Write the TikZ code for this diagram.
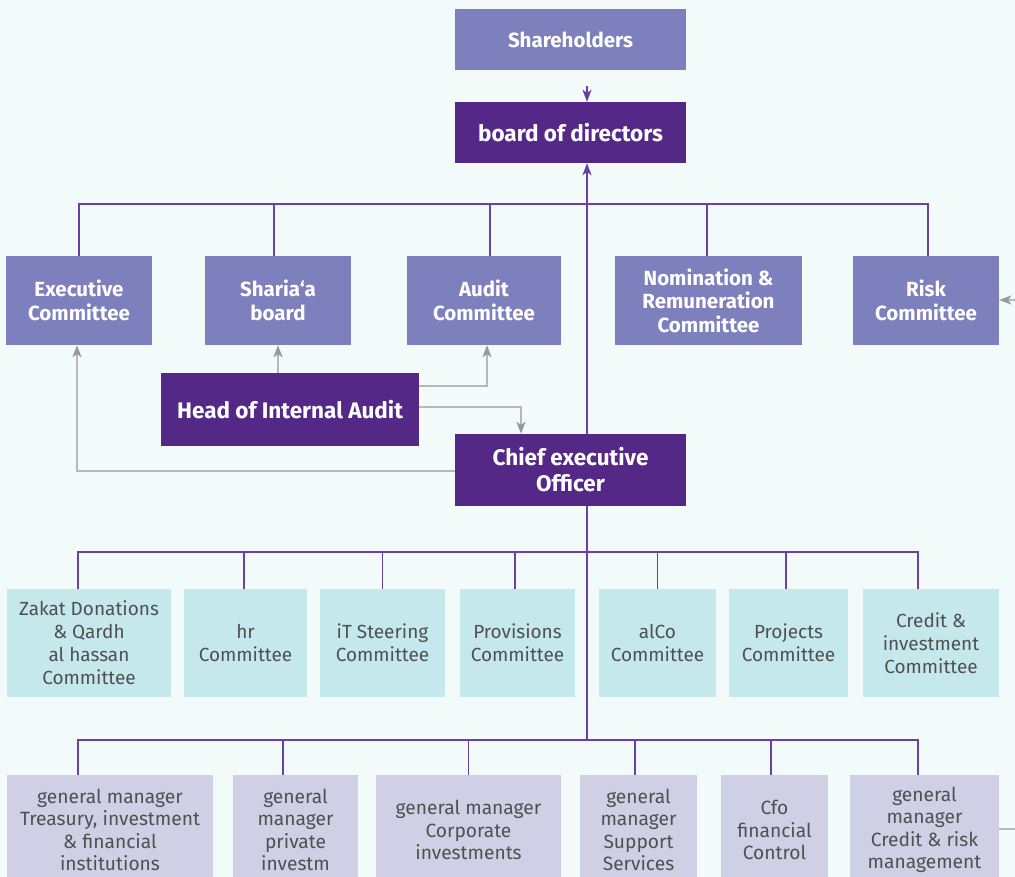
\documentclass[tikz,border=0pt]{standalone}
\usepackage{fontspec}
\setmainfont{Fira Sans}
\usetikzlibrary{arrows.meta}
\pgfdeclarelayer{back}
\pgfdeclarelayer{lines}
\pgfsetlayers{back,lines,main}
\definecolor{bgc}{HTML}{F2FBFA}
\definecolor{midp}{HTML}{7E7FBD}
\definecolor{darkp}{HTML}{542886}
\definecolor{cyanb}{HTML}{C5E8EC}
\definecolor{lavb}{HTML}{CFCFE6}
\definecolor{txtg}{HTML}{505050}
\definecolor{conp}{HTML}{6E3FA3}
\definecolor{grl}{HTML}{B5B9B9}
\definecolor{gra}{HTML}{999999}
\tikzset{
  basebox/.style={inner sep=0pt, align=center, anchor=center},
  midbox/.style={basebox, fill=midp, text=white, font=\fontsize{20.5}{23.5}\selectfont\bfseries},
  darkbox/.style={basebox, fill=darkp, text=white, font=\fontsize{22.5}{26}\selectfont\bfseries},
  cyanbox/.style={basebox, fill=cyanb, text=txtg, font=\fontsize{19}{23}\selectfont},
  lavbox/.style={basebox, fill=lavb, text=txtg, font=\fontsize{19.2}{22.5}\selectfont},
  busline/.style={draw=conp, line width=1.4pt},
  parrow/.style={draw=conp, line width=1.4pt, -{Stealth[length=12pt,width=9pt,inset=3pt,color=conp]}},
  garrow/.style={draw=grl, line width=1.6pt, -{Stealth[length=12pt,width=9pt,inset=3pt,color=gra]}},
  gline/.style={draw=grl, line width=1.6pt},
}
\begin{document}
\begin{tikzpicture}[x=1pt,y=-1pt]
\begin{pgfonlayer}{back}
\fill[bgc] (0,0) rectangle (1015,877);
\end{pgfonlayer}
\useasboundingbox (0,0) rectangle (1015,877);

% top
\node[midbox, minimum width=231pt, minimum height=61pt] (share) at (570.5,39.5) {Shareholders};
\node[darkbox, minimum width=231pt, minimum height=61pt] (board) at (570.5,132.5) {board of directors};

% committees row
\node[midbox, minimum width=146pt, minimum height=89pt] (exec) at (79,300.5) {Executive\\Committee};
\node[midbox, minimum width=146pt, minimum height=89pt] (sharia) at (278,300.5) {Sharia‘a\\board};
\node[midbox, minimum width=154pt, minimum height=89pt] (audit) at (484,300.5) {Audit\\Committee};
\node[midbox, minimum width=187pt, minimum height=89pt] (nomin) at (708.5,300.5) {Nomination \&\\Remuneration\\Committee};
\node[midbox, minimum width=146pt, minimum height=89pt] (risk) at (926,300.5) {Risk\\Committee};

\node[darkbox, minimum width=258pt, minimum height=73pt] (hia) at (290,409.5) {Head of Internal Audit};
\node[darkbox, minimum width=231pt, minimum height=72pt] (ceo) at (570.5,470) {Chief executive\\Officer};

% management committees
\node[cyanbox, minimum width=164pt, minimum height=108pt] (zakat) at (89,643) {Zakat Donations\\\& Qardh\\al hassan\\Committee};
\node[cyanbox, minimum width=123pt, minimum height=108pt] (hr) at (245.5,643) {hr\\Committee};
\node[cyanbox, minimum width=125pt, minimum height=108pt] (it) at (382.5,643) {iT Steering\\Committee};
\node[cyanbox, minimum width=115pt, minimum height=108pt] (prov) at (517.5,643) {Provisions\\Committee};
\node[cyanbox, minimum width=117pt, minimum height=108pt] (alco) at (657.5,643) {alCo\\Committee};
\node[cyanbox, minimum width=119pt, minimum height=108pt] (proj) at (788.5,643) {Projects\\Committee};
\node[cyanbox, minimum width=136pt, minimum height=108pt] (credit) at (931,643) {Credit \&\\investment\\Committee};

% general managers
\node[lavbox, minimum width=206pt, minimum height=110pt] (gmt) at (110,830) {general manager\\Treasury, investment\\\& financial\\institutions};
\node[lavbox, minimum width=125pt, minimum height=110pt] (gmp) at (295.5,830) {general\\manager\\private\\investm};
\node[lavbox, minimum width=185pt, minimum height=110pt] (gmc) at (468.5,830) {general manager\\Corporate\\investments};
\node[lavbox, minimum width=117pt, minimum height=110pt] (gms) at (638.5,830) {general\\manager\\Support\\Services};
\node[lavbox, minimum width=107pt, minimum height=110pt] (cfo) at (774.5,830) {Cfo\\financial\\Control};
\node[lavbox, minimum width=149pt, minimum height=110pt] (gmr) at (924.5,830) {general\\manager\\Credit \& risk\\management};

\coordinate (topbus) at (587,204);
\coordinate (midbus) at (587,552);
\coordinate (lowbus) at (587,740);
\coordinate (rin) at (1018,300);
\coordinate (bout) at (1018,829);

\begin{pgfonlayer}{lines}
% shareholders -> board
\draw[parrow, shorten <=16pt] ([xshift=16.5pt]share.south) -- ([xshift=16.5pt]board.north);
% trunk
\draw[parrow] (lowbus) -- ([xshift=16.5pt]board.south);
% top bus
\draw[busline] (exec.north) -- (exec.north |- topbus) -- ([xshift=2pt]risk.north |- topbus) -- ([xshift=2pt]risk.north);
\draw[busline] ([xshift=-4pt]sharia.north) -- ([xshift=-4pt]sharia.north |- topbus);
\draw[busline] ([xshift=6pt]audit.north) -- ([xshift=6pt]audit.north |- topbus);
\draw[busline] ([xshift=-1.5pt]nomin.north) -- ([xshift=-1.5pt]nomin.north |- topbus);
% mid bus
\draw[busline] ([xshift=-11pt]zakat.north) -- ([xshift=-11pt]zakat.north |- midbus) -- ([xshift=-13pt]credit.north |- midbus) -- ([xshift=-13pt]credit.north);
\draw[busline] ([xshift=-1.5pt]hr.north) -- ([xshift=-1.5pt]hr.north |- midbus);
\draw[busline] (it.north) -- (it.north |- midbus);
\draw[busline] ([xshift=-2.5pt]prov.north) -- ([xshift=-2.5pt]prov.north |- midbus);
\draw[busline] (alco.north) -- (alco.north |- midbus);
\draw[busline] ([xshift=-2.5pt]proj.north) -- ([xshift=-2.5pt]proj.north |- midbus);
% low bus
\draw[busline] ([xshift=-32pt]gmt.north) -- ([xshift=-32pt]gmt.north |- lowbus) -- ([xshift=-6.5pt]gmr.north |- lowbus) -- ([xshift=-6.5pt]gmr.north);
\draw[busline] ([xshift=-12.5pt]gmp.north) -- ([xshift=-12.5pt]gmp.north |- lowbus);
\draw[busline] (gmc.north) -- (gmc.north |- lowbus);
\draw[busline] ([xshift=-3.5pt]gms.north) -- ([xshift=-3.5pt]gms.north |- lowbus);
\draw[busline] ([xshift=-3.5pt]cfo.north) -- ([xshift=-3.5pt]cfo.north |- lowbus);
% gray arrows
\draw[garrow] (hia.north -| sharia.south) -- (sharia.south);
\draw[garrow] ([yshift=23.5pt]hia.east) -| ([xshift=3pt]audit.south);
\draw[garrow] ([yshift=2.5pt]hia.east) -| ([xshift=-49.5pt]ceo.north);
\draw[garrow] ([yshift=-1pt]ceo.west) -| ([xshift=-2pt]exec.south);
\draw[garrow] (rin) -- (risk.east |- rin);
\draw[gline] (gmr.east |- bout) -- (bout);
\end{pgfonlayer}
\end{tikzpicture}
\end{document}
